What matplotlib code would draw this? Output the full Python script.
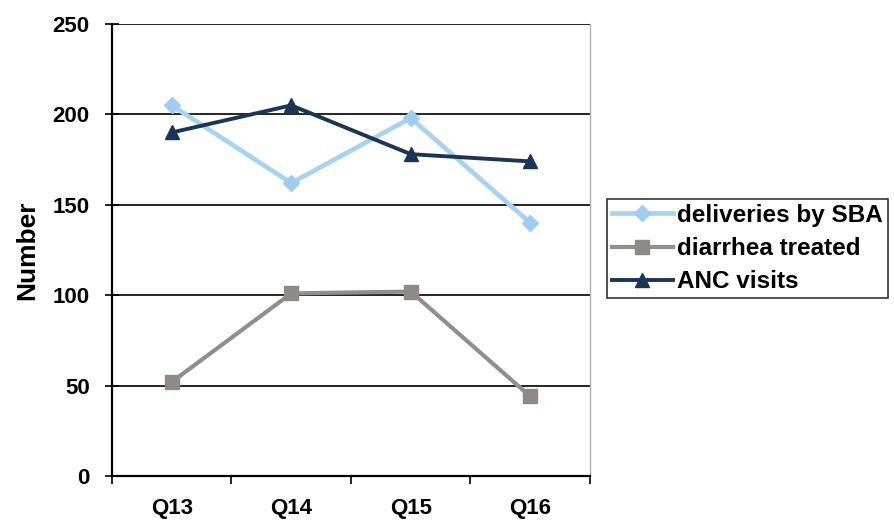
import numpy as np
import matplotlib
matplotlib.use("Agg")
import matplotlib.pyplot as plt
from matplotlib.ticker import FixedLocator

plt.rcParams['font.family'] = ['Liberation Sans', 'DejaVu Sans']
plt.rcParams['font.weight'] = 'bold'

# data
quarters = ['Q13', 'Q14', 'Q15', 'Q16']
sba_deliveries = [205, 162, 198, 140]
diarrhea_treated = [52, 101, 102, 44]
anc_visits = [190, 205, 178, 174]

fig = plt.figure(figsize=(8.95, 5.23), dpi=100, facecolor='white')
ax = fig.add_axes([112/895, 1-476/523, (590-112)/895, (476-24)/523])

x = np.arange(len(quarters))

ax.plot(x, sba_deliveries, '-', color='#a8d3ef', lw=3.4, marker='D',
        markersize=8, markerfacecolor='#9fcdee', markeredgecolor='#9fcdee',
        label='deliveries by SBA', zorder=3)
ax.plot(x, diarrhea_treated, '-', color='#8f8f8f', lw=3.0, marker='s',
        markersize=10, markerfacecolor='#8f8a88', markeredgecolor='#8f8a88',
        label='diarrhea treated', zorder=3)
ax.plot(x, anc_visits, '-', color='#1b3556', lw=2.8, marker='^',
        markersize=10, markerfacecolor='#1b3556', markeredgecolor='#1b3556',
        label='ANC visits', zorder=4)

ax.set_xlim(-0.5, len(quarters) - 0.5)
ax.set_ylim(0, 250)
ax.set_yticks(np.arange(0, 251, 50))
ax.set_xticks(x)
ax.set_xticklabels(quarters)
ax.xaxis.set_minor_locator(FixedLocator(np.arange(-0.5, len(quarters), 1)))

ax.tick_params(axis='x', which='major', length=0, pad=16, labelsize=16)
ax.tick_params(axis='x', which='minor', direction='out', length=6, width=1.2, color='black')
ax.tick_params(axis='y', direction='inout', length=10, width=1.2, pad=11, labelsize=16)

ax.grid(axis='y', color='black', lw=1.2, zorder=1)
ax.set_axisbelow(True)

for s in ['left', 'bottom']:
    ax.spines[s].set_linewidth(1.6)
    ax.spines[s].set_color('black')
ax.spines['top'].set_visible(False)
ax.spines['right'].set_color('#b0b0b0')
ax.spines['right'].set_linewidth(1.0)

ax.set_ylabel('Number', fontsize=19, fontweight='bold', labelpad=10)

leg = fig.legend(loc='upper left', bbox_to_anchor=(607/895, 1-199/523),
                 fontsize=17.5, frameon=True, fancybox=False, edgecolor='black',
                 handlelength=2.5, handletextpad=0.2, borderpad=0.2,
                 labelspacing=0.42, borderaxespad=0)
leg.get_frame().set_linewidth(1.2)

fig.savefig('out.png', dpi=100, facecolor='white')
